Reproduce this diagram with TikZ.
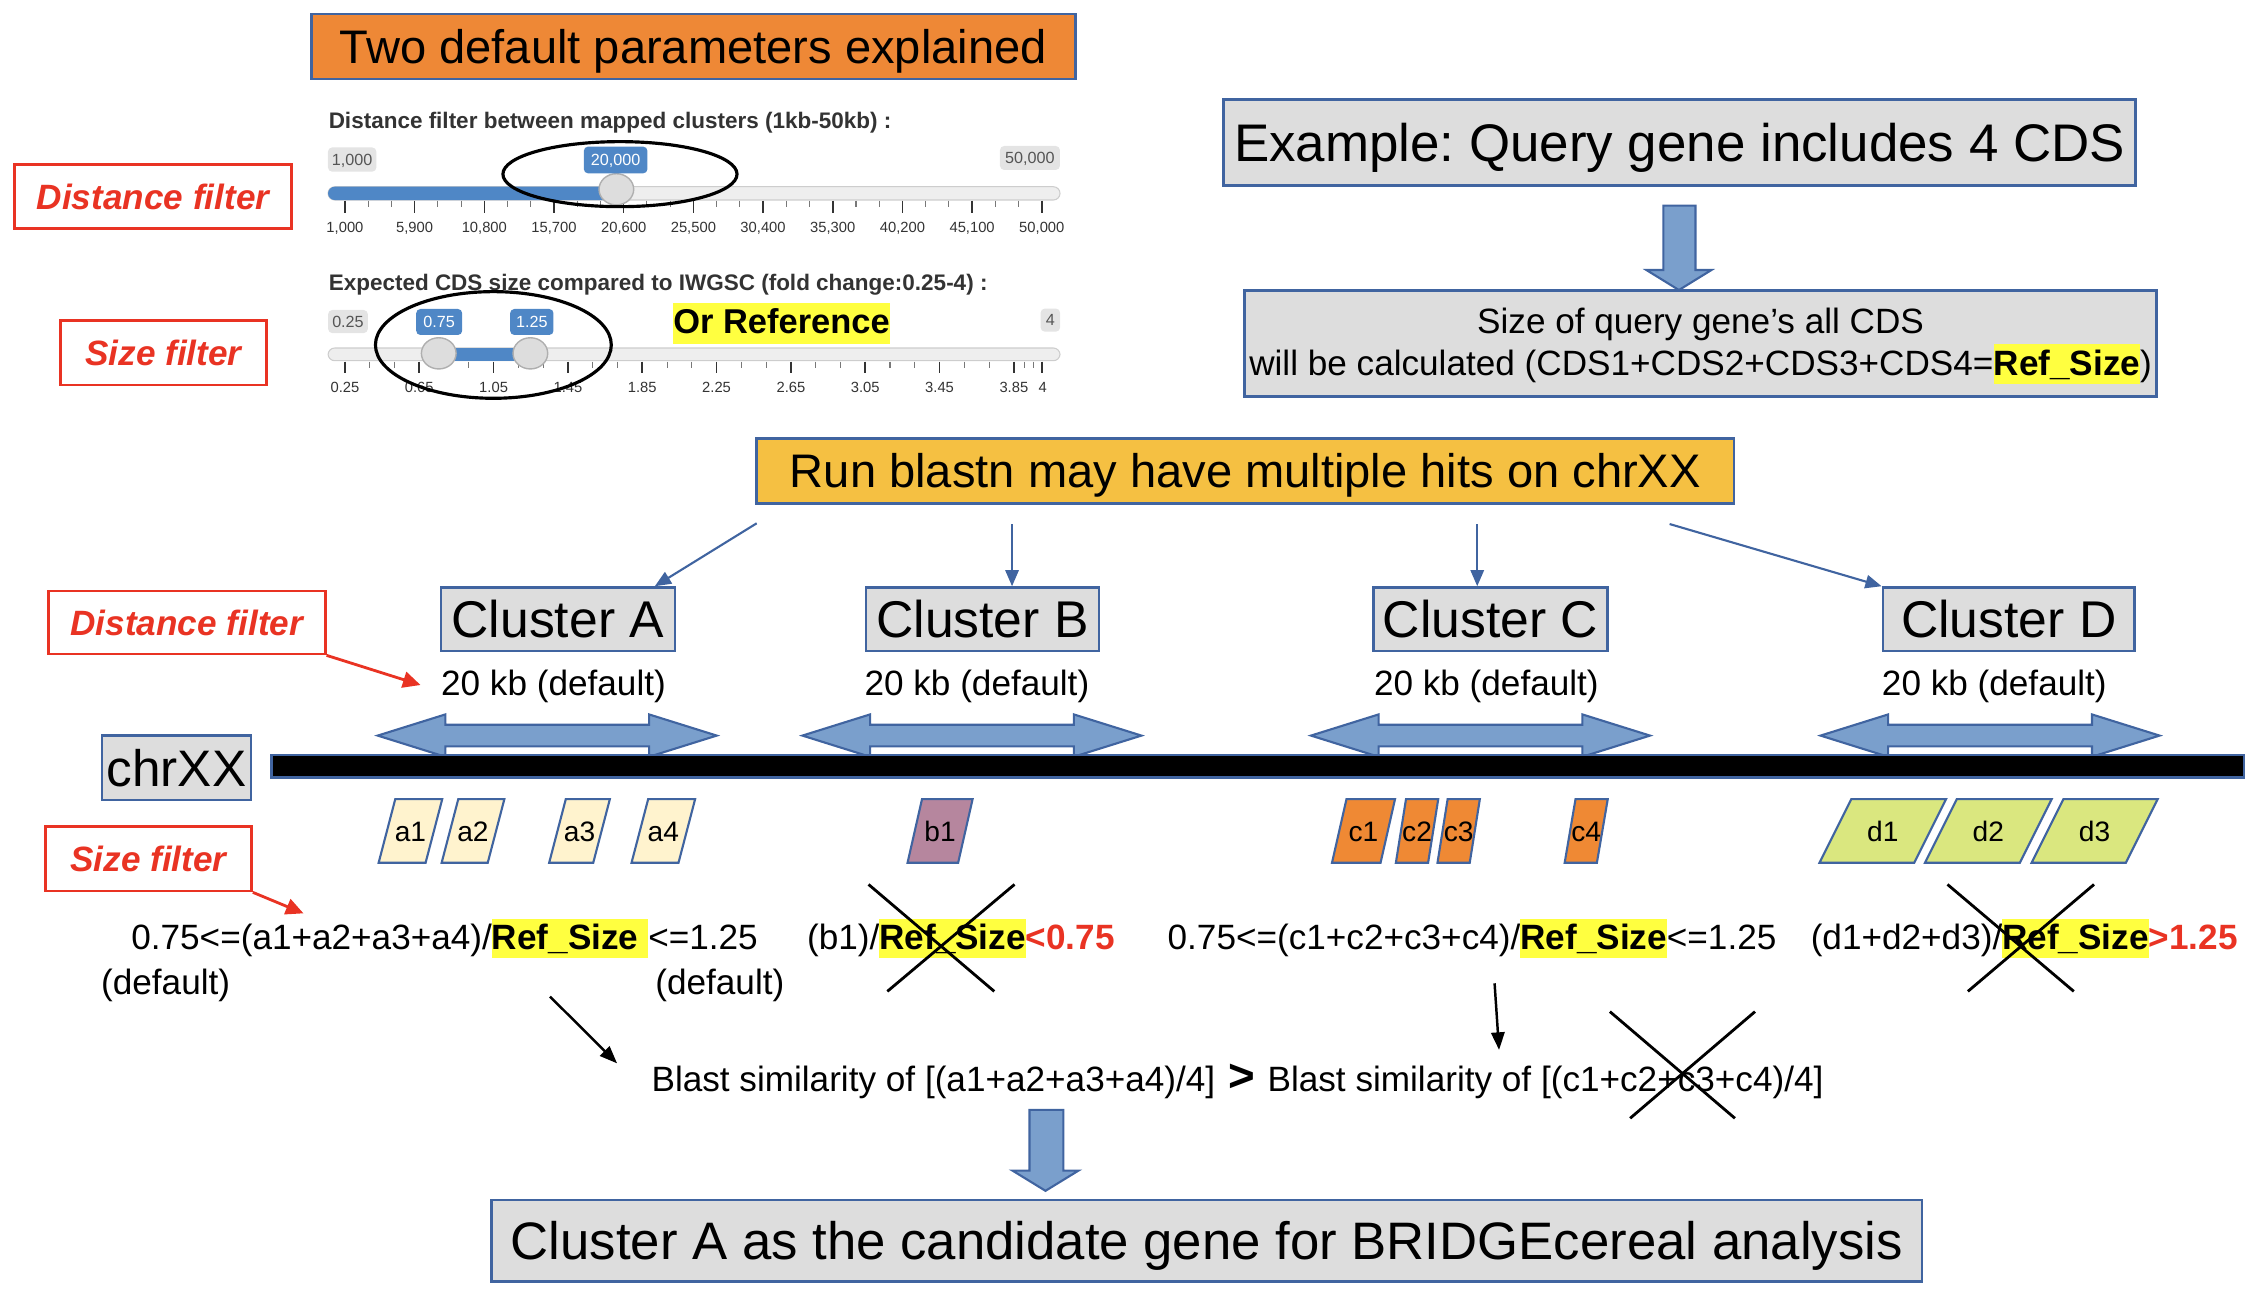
\documentclass[tikz,border=0pt]{standalone}
\usepackage{fontspec}
\setmainfont{Liberation Sans}
\usetikzlibrary{arrows.meta,calc}
\frenchspacing
\definecolor{bdr}{RGB}{64,100,160}
\definecolor{gfill}{RGB}{221,221,221}
\definecolor{orng}{RGB}{238,136,54}
\definecolor{gold}{RGB}{245,192,66}
\definecolor{arrf}{RGB}{122,159,204}
\definecolor{redc}{RGB}{233,51,35}
\definecolor{yhl}{RGB}{255,255,64}
\definecolor{sblue}{RGB}{79,135,198}
\definecolor{cdsA}{RGB}{255,243,206}
\definecolor{cdsB}{RGB}{182,134,158}
\definecolor{cdsC}{RGB}{239,137,52}
\definecolor{cdsD}{RGB}{218,231,127}
\definecolor{trk}{RGB}{238,238,238}
\definecolor{trkb}{RGB}{205,205,205}
\definecolor{hndl}{RGB}{221,221,221}
\definecolor{hndlb}{RGB}{175,175,175}
\definecolor{tickc}{RGB}{51,51,51}
\definecolor{tickm}{RGB}{120,120,120}
\definecolor{glab}{RGB}{228,228,228}
\definecolor{glabt}{RGB}{85,85,85}
\newlength\pxu
\setlength\pxu{0.014452cm}
\newcommand\hlbox[1]{{\setlength{\fboxsep}{0pt}\colorbox{yhl}{\rule[-2.4pt]{0pt}{11.2pt}#1}}}
\newcommand\hlboxb[1]{{\setlength{\fboxsep}{0pt}\colorbox{yhl}{\rule[-3pt]{0pt}{11.6pt}#1}}}
\newcommand\dblarr[2]{%
  \draw[blockarr] (#1-117.3,#2) -- (#1-70.5,#2-14.65) -- (#1-70.5,#2-7.5) -- (#1+70.5,#2-7.5) -- (#1+70.5,#2-14.65) -- (#1+117.3,#2) -- (#1+70.5,#2+14.65) -- (#1+70.5,#2+7.5) -- (#1-70.5,#2+7.5) -- (#1-70.5,#2+14.65) -- cycle;}
\newcommand\cds[6]{%
  \draw[cdsline, fill=#5] (#2,597) -- (#3-#4,597) -- (#3,553) -- (#2+#4,553) -- cycle;
  \node[cdstext] (#1) at ({(#2+#3)/2},582.4) {#6};}
\tikzset{
  boxb/.style={draw=bdr, line width=0.7pt, inner sep=0pt, text depth=0pt, align=center},
  gbox/.style={boxb, fill=gfill},
  clus/.style={gbox, minimum height=44*\pxu, text height=10.6pt, font=\fontsize{14.7}{17}\selectfont},
  rbox/.style={draw=redc, line width=0.8pt, fill=white, text=redc, inner sep=0pt, font=\fontsize{10}{12}\selectfont\bfseries\itshape, text height=7.2pt, text depth=0pt},
  txt/.style={inner sep=0pt, font=\fontsize{10}{12}\selectfont},
  hdr/.style={inner sep=0pt, anchor=base west, text=tickc, font=\fontsize{6.4}{8}\selectfont\bfseries},
  track/.style={fill=trk, draw=trkb, line width=0.3pt, rounded corners=1.9pt},
  handle/.style={fill=hndl, draw=hndlb, line width=0.4pt},
  majtick/.style={draw=tickc, line width=0.45pt},
  mintick/.style={draw=tickm, line width=0.3pt},
  ticklab/.style={inner sep=0pt, anchor=base, font=\fontsize{4.2}{5}\selectfont, text=tickc},
  graylab/.style={fill=glab, rounded corners=1.2pt, inner sep=0pt, text=glabt, font=\fontsize{4.6}{5}\selectfont, text height=3.3pt, text depth=0pt},
  bluelab/.style={graylab, fill=sblue, text=white},
  ring/.style={draw=black, line width=0.9pt},
  barr/.style={draw=bdr, line width=0.6pt, -{Triangle[length=4.6pt,width=3.8pt]}},
  rarr/.style={draw=redc, line width=0.8pt, -{Triangle[length=5pt,width=4.6pt]}},
  karr/.style={draw=black, line width=0.7pt, -{Triangle[length=5pt,width=3.8pt]}},
  blockarr/.style={fill=arrf, draw=bdr, line width=0.6pt},
  cdsline/.style={draw=bdr, line width=0.6pt},
  cdstext/.style={inner sep=0pt, anchor=base, font=\fontsize{8}{10}\selectfont},
  xline/.style={draw=black, line width=0.8pt}
}
\begin{document}
\begin{tikzpicture}[x=0.014452cm,y=-0.014452cm]
\useasboundingbox (0,0) rectangle (1568,898);

% ---------- title ----------
\node[boxb, fill=orng, minimum width=528.8*\pxu, minimum height=45*\pxu, text height=9.65pt, font=\fontsize{13.4}{16}\selectfont] (title) at (479.8,32.2) {Two default parameters explained};

% ---------- slider 1 ----------
\node[hdr] (h1) at (227,88.8) {Distance filter between mapped clusters (1kb-50kb) :};
\draw[track] (227,129.2) rectangle (733.5,138.4);
\fill[sblue, rounded corners=1.9pt] (227,129.2) rectangle (432,138.4);
\foreach \k in {0,...,10} {\draw[majtick] ({238.7+48.22*\k},138.9) -- ++(0,8.7);}
\foreach \k in {0,...,9} {
  \draw[mintick] ({238.7+48.22*\k+16.07},138.9) -- ++(0,4.6);
  \draw[mintick] ({238.7+48.22*\k+32.15},138.9) -- ++(0,4.6);}
\foreach \lab [count=\k from 0] in {{1,000},{5,900},{10,800},{15,700},{20,600},{25,500},{30,400},{35,300},{40,200},{45,100},{50,000}}
  {\node[ticklab] (ta\k) at ({238.7+48.22*\k},161.2) {\lab};}
\draw[handle] (426.5,131) ellipse [x radius=12, y radius=10.8];
\node[graylab, minimum width=33.5*\pxu, minimum height=16.8*\pxu] (v1a) at (243.7,110.4) {1,000};
\node[bluelab, minimum width=44*\pxu, minimum height=18.5*\pxu] (v1b) at (426,110.7) {20,000};
\node[graylab, minimum width=41.5*\pxu, minimum height=16.6*\pxu] (v1c) at (712.7,109.3) {50,000};
\draw[ring] (429,120.5) ellipse [x radius=81, y radius=22.5];

% ---------- slider 2 ----------
\node[hdr] (h2) at (227,200.7) {Expected CDS size compared to IWGSC (fold change:0.25-4) :};
\draw[track] (227,240.8) rectangle (733.5,249.6);
\fill[sblue] (303.6,240.8) rectangle (367,249.6);
\foreach \k in {0,...,9} {\draw[majtick] ({238.7+51.43*\k},250.3) -- ++(0,8);}
\draw[majtick] (720.9,250.3) -- ++(0,8);
\foreach \k in {0,...,8} {
  \draw[mintick] ({238.7+51.43*\k+17.14},250.3) -- ++(0,4.2);
  \draw[mintick] ({238.7+51.43*\k+34.29},250.3) -- ++(0,4.2);}
\draw[mintick] (708.9,250.3) -- ++(0,4.2);
\draw[mintick] (714.9,250.3) -- ++(0,4.2);
\foreach \lab [count=\k from 0] in {0.25,0.65,1.05,1.45,1.85,2.25,2.65,3.05,3.45,3.85}
  {\node[ticklab] (tb\k) at ({238.7+51.43*\k},271.3) {\lab};}
\node[ticklab] (tb10) at (721.5,271.3) {4};
\draw[handle] (303.6,244.5) ellipse [x radius=12, y radius=10.8];
\draw[handle] (367,244.5) ellipse [x radius=12, y radius=10.8];
\node[graylab, minimum width=27.5*\pxu, minimum height=16*\pxu] (v2a) at (240.8,222.5) {0.25};
\node[bluelab, minimum width=31.8*\pxu, minimum height=18*\pxu] (v2b) at (303.9,222.8) {0.75};
\node[bluelab, minimum width=30*\pxu, minimum height=18*\pxu] (v2c) at (368,222.8) {1.25};
\node[graylab, minimum width=13.5*\pxu, minimum height=16*\pxu] (v2d) at (726.8,221.5) {4};
\draw[ring] (341.4,238.7) ellipse [x radius=81.6, y radius=36.9];
\node[inner sep=0pt, anchor=base, font=\fontsize{9.8}{12}\selectfont\bfseries] (orref) at (540.8,230.6) {\hlboxb{Or Reference}};

% ---------- left red labels (top) ----------
\node[rbox, minimum width=191.9*\pxu, minimum height=44.3*\pxu] (df1) at (105.9,135.9) {Distance filter};
\node[rbox, minimum width=142.8*\pxu, minimum height=44.8*\pxu] (sf1) at (113.1,244) {Size filter};

% ---------- example ----------
\node[gbox, minimum width=631*\pxu, minimum height=59.8*\pxu, text height=10.8pt, font=\fontsize{15.05}{18}\selectfont] (ex) at (1162.2,98.6) {Example: Query gene includes 4 CDS};
\draw[blockarr] (1151,142.3) -- (1173.2,142.3) -- (1173.2,186.8) -- (1184.3,186.8) -- (1161.75,200.7) -- (1139.2,186.8) -- (1151,186.8) -- cycle;
\node[gbox, minimum width=631.1*\pxu, minimum height=73.4*\pxu, text height=17.9pt, text depth=0pt, font=\fontsize{10}{11.9}\selectfont] (sz) at (1176.75,237.8) {Size of query gene’s all CDS\\will be calculated (CDS1+CDS2+CDS3+CDS4=\hlbox{\textbf{Ref\_Size}})};

% ---------- run blastn ----------
\node[boxb, fill=gold, minimum width=676.4*\pxu, minimum height=45*\pxu, text height=9.65pt, font=\fontsize{13.4}{16}\selectfont] (run) at (861.8,325.8) {Run blastn may have multiple hits on chrXX};

% ---------- clusters ----------
\node[clus, minimum width=162*\pxu] (cA) at (386,428.5) {Cluster A};
\node[clus, minimum width=161.3*\pxu] (cB) at (679.85,428.5) {Cluster B};
\node[clus, minimum width=161.8*\pxu] (cC) at (1031.4,428.5) {Cluster C};
\node[clus, minimum width=174.3*\pxu] (cD) at (1390,428.5) {Cluster D};
\coordinate (sA) at (523.6,362.1);
\coordinate (sB) at (700.3,362.6);
\coordinate (sC) at (1022.2,362.6);
\coordinate (sD) at (1155.3,362.6);
\draw[barr] (sA) -- ($(cA.north west)!0.91!(cA.north east)$);
\draw[barr] (sB) -- (sB |- cB.north);
\draw[barr] (sC) -- (sC |- cC.north);
\draw[barr] (sD) -- (cD.north west);

\node[txt, anchor=base] (kA) at (383,481) {20 kb (default)};
\node[txt, anchor=base] (kB) at (676,481) {20 kb (default)};
\node[txt, anchor=base] (kC) at (1028.5,481) {20 kb (default)};
\node[txt, anchor=base] (kD) at (1380,481) {20 kb (default)};

\dblarr{378.65}{509}
\dblarr{672.55}{509}
\dblarr{1024.45}{509}
\dblarr{1377.05}{509}

% ---------- chromosome ----------
\node[gbox, minimum width=103.1*\pxu, minimum height=44.6*\pxu, text height=10.5pt, font=\fontsize{14.6}{17}\selectfont] (chr) at (122.15,531.3) {chrXX};
\draw[fill=black, draw=bdr, line width=0.7pt] (188,522.5) rectangle (1552.7,538);

% ---------- CDS blocks ----------
\cds{a1}{262}{306}{11.5}{cdsA}{a1}
\cds{a2}{305.6}{349}{11.5}{cdsA}{a2}
\cds{a3}{380}{422}{11.5}{cdsA}{a3}
\cds{a4}{437}{481}{11.5}{cdsA}{a4}
\cds{b1}{628}{673}{10}{cdsB}{b1}
\cds{c1}{921.7}{965.3}{10}{cdsC}{c1}
\cds{c2}{965.9}{995.2}{7}{cdsC}{c2}
\cds{c3}{994.7}{1024}{7}{cdsC}{c3}
\cds{c4}{1082.7}{1112.5}{7.5}{cdsC}{c4}
\cds{d1}{1259}{1346.6}{22}{cdsD}{d1}
\cds{d2}{1332}{1419.7}{22}{cdsD}{d2}
\cds{d3}{1405.8}{1493}{22}{cdsD}{d3}

% ---------- left red labels (bottom) ----------
\node[rbox, minimum width=191.5*\pxu, minimum height=43.5*\pxu] (df2) at (129.25,430.75) {Distance filter};
\coordinate (df2t) at (291,474);
\draw[rarr] (df2.south east) -- (df2t);
\node[rbox, minimum width=142.5*\pxu, minimum height=44.5*\pxu] (sf2) at (102.75,594.25) {Size filter};
\coordinate (sf2t) at (210,632);
\draw[rarr] (sf2.south east) -- (sf2t);

% ---------- formulas ----------
\node[txt, anchor=base west] (fA) at (90.4,657) {0.75<=(a1+a2+a3+a4)/\hlbox{\textbf{Ref\_Size}\ }<=1.25};
\node[txt, anchor=base west] (dA1) at (69.5,688) {(default)};
\node[txt, anchor=base west] (dA2) at (453,688) {(default)};
\node[txt, anchor=base west] (fB) at (558,657) {(b1)/\hlbox{\textbf{Ref\_Size}}\textcolor{redc}{\textbf{<0.75}}};
\node[txt, anchor=base west] (fC) at (807.5,657) {0.75<=(c1+c2+c3+c4)/\hlbox{\textbf{Ref\_Size}}<=1.25};
\node[txt, anchor=base west] (fD) at (1252.5,657) {(d1+d2+d3)/\hlbox{\textbf{Ref\_Size}}\textcolor{redc}{\textbf{>1.25}}};

\draw[xline] (601,612) -- (688,686);
\draw[xline] (702,612) -- (614,686);
\draw[xline] (1347.6,612) -- (1435,686);
\draw[xline] (1449,612) -- (1361.7,686);

% ---------- comparison ----------
\coordinate (kA0) at (380.6,689.6);
\coordinate (kA1) at (427,735.8);
\draw[karr] (kA0) -- (kA1);
\coordinate (kC0) at (1034.2,680.4);
\coordinate (kC1) at (1037.3,726.5);
\draw[karr] (kC0) -- (kC1);

\node[txt, anchor=base west] (blast) at (450.4,755) {Blast similarity of [(a1+a2+a3+a4)/4]\hspace{3.7pt}{\fontsize{13}{13}\selectfont\bfseries >}\hspace{3.6pt}Blast similarity of [(c1+c2+c3+c4)/4]};
\draw[xline] (1114,700) -- (1200.5,773.8);
\draw[xline] (1214.4,700) -- (1128,773.8);

\draw[blockarr] (712.4,768) -- (735.8,768) -- (735.8,810) -- (746.3,810) -- (723.45,824) -- (700.6,810) -- (712.4,810) -- cycle;

\node[gbox, minimum width=990*\pxu, minimum height=56.6*\pxu, text height=10.8pt, font=\fontsize{15}{18}\selectfont] (fin) at (835,858.6) {Cluster A as the candidate gene for BRIDGEcereal analysis};
\end{tikzpicture}
\end{document}
